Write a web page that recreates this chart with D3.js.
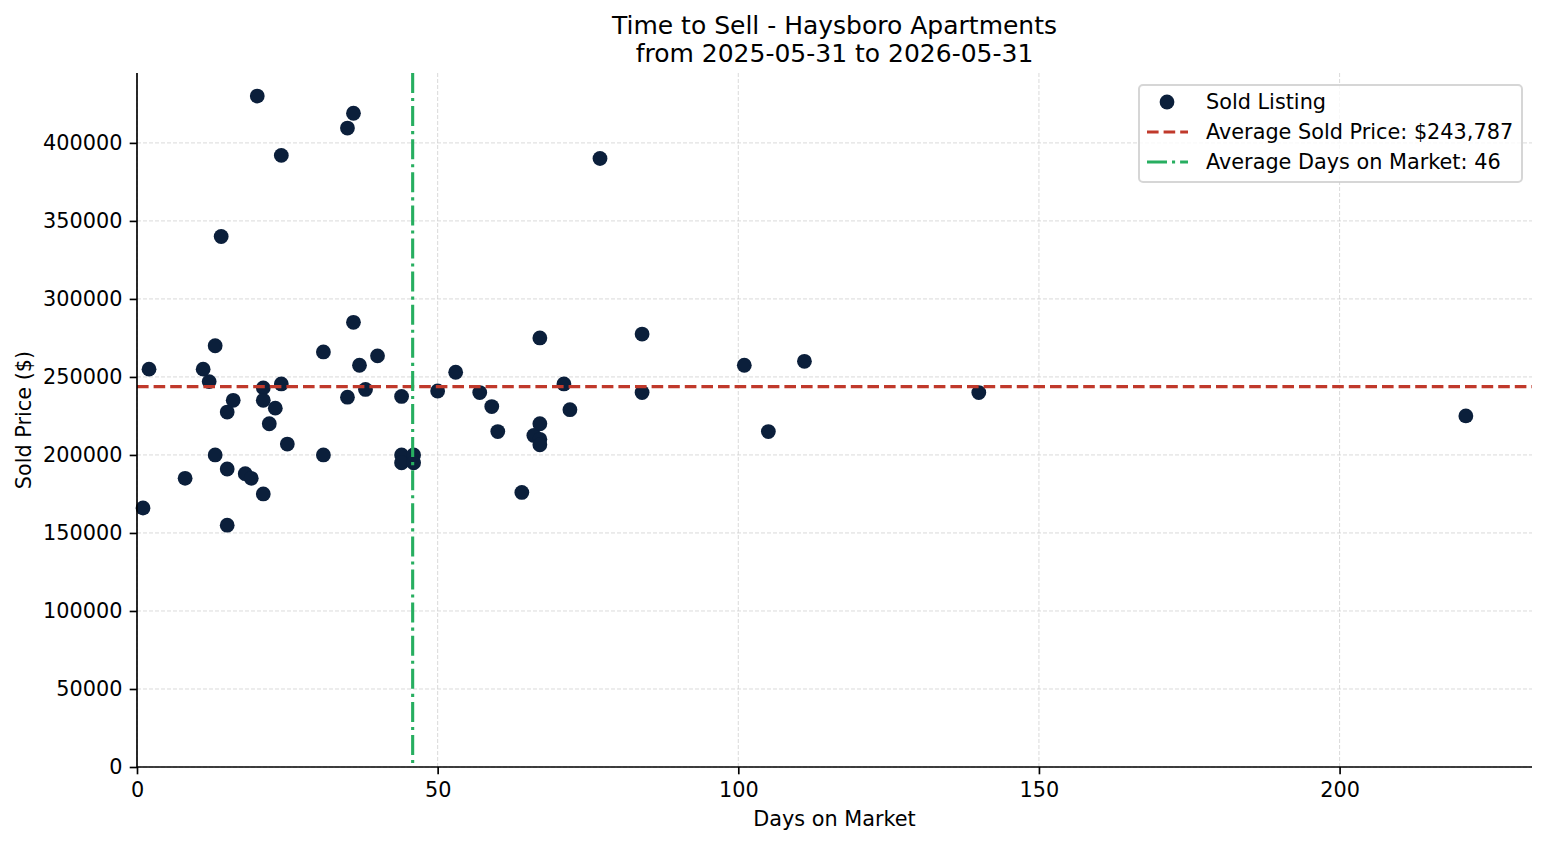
<!DOCTYPE html>
<html>
<head>
<meta charset="utf-8">
<script src="https://cdn.jsdelivr.net/npm/d3@7"></script>
<style>
  body { margin: 0; background: #fff; }
  svg text { font-family: "DejaVu Sans", sans-serif; fill: #000; }
</style>
</head>
<body>
<div id="chart"></div>
<script>
// datos
const days = [1, 2, 8, 11, 12, 13, 13, 14, 15, 15, 15, 16, 18, 19, 20, 21, 21, 21, 22, 23, 24, 24, 25,
  31, 31, 35, 35, 36, 36, 37, 38, 40, 44, 44, 44, 46, 46, 50, 53, 57, 59, 60, 64, 66, 67, 67, 67, 67,
  71, 72, 77, 84, 84, 101, 105, 111, 140, 221];
const prices = [166000, 255000, 185000, 255000, 247000, 270000, 200000, 340000, 227500, 191000, 155000,
  235000, 188000, 185000, 430000, 243000, 235000, 175000, 220000, 230000, 392000, 245500, 207000,
  266000, 200000, 409500, 237000, 419000, 285000, 257500, 242000, 263500, 237500, 200000, 195000,
  200000, 195000, 241000, 253000, 240000, 231000, 215000, 176000, 212500, 275000, 220000, 210000, 206500,
  245500, 229000, 390000, 277500, 240000, 257500, 215000, 260000, 240000, 225000];
const avgPrice = 243787;
const xTicks = [0, 50, 100, 150, 200];
const yTicks = [0, 50000, 100000, 150000, 200000, 250000, 300000, 350000, 400000];
const titleLines = ['Time to Sell - Haysboro Apartments', 'from 2025-05-31 to 2026-05-31'];

const avgDays = d3.mean(days);
const points = days.map((d, i) => ({ days: d, price: prices[i] }));

const svgWidth = 1547;
const svgHeight = 845;
const margin = { top: 73, right: 15, bottom: 78, left: 137 };
const width = svgWidth - margin.left - margin.right;
const height = svgHeight - margin.top - margin.bottom;

const navy = '#0b1f3b';
const red = '#c0392b';
const green = '#27ae60';

const root = d3.select('#chart')
  .append('svg')
  .attr('width', svgWidth)
  .attr('height', svgHeight);

const svg = root.append('g')
  .attr('transform', `translate(${margin.left},${margin.top})`);

const xScale = d3.scaleLinear().domain([0, 232]).range([0, width]);
const yScale = d3.scaleLinear().domain([0, 444800]).range([height, 0]);

// grilla
svg.append('g')
  .selectAll('line')
  .data(xTicks)
  .enter().append('line')
  .attr('x1', d => xScale(d)).attr('x2', d => xScale(d))
  .attr('y1', 0).attr('y2', height)
  .attr('stroke', '#d0d0d0')
  .attr('stroke-width', 0.8).attr('stroke-dasharray', '4,2');

svg.append('g')
  .selectAll('line')
  .data(yTicks)
  .enter().append('line')
  .attr('x1', 0).attr('x2', width)
  .attr('y1', d => yScale(d)).attr('y2', d => yScale(d))
  .attr('stroke', '#d0d0d0')
  .attr('stroke-width', 0.8).attr('stroke-dasharray', '4,2');

// puntos
svg.selectAll('.dot')
  .data(points)
  .enter().append('circle')
  .attr('class', 'dot')
  .attr('cx', d => xScale(d.days))
  .attr('cy', d => yScale(d.price))
  .attr('r', 7.4)
  .attr('fill', navy);

// lineas promedio
svg.append('line')
  .attr('x1', 0).attr('x2', width)
  .attr('y1', yScale(avgPrice)).attr('y2', yScale(avgPrice))
  .attr('stroke', red).attr('stroke-width', 3.1)
  .attr('stroke-dasharray', '11.6,5');

svg.append('line')
  .attr('x1', xScale(avgDays)).attr('x2', xScale(avgDays))
  .attr('y1', 0).attr('y2', height)
  .attr('stroke', green).attr('stroke-width', 3.1)
  .attr('stroke-dasharray', '20,5,3.1,5');

// ejes
const xAxis = svg.append('g')
  .attr('transform', `translate(0,${height})`)
  .call(d3.axisBottom(xScale).tickValues(xTicks).tickSize(7.3).tickPadding(7.3).tickFormat(d3.format('d')));

const yAxis = svg.append('g')
  .call(d3.axisLeft(yScale).tickValues(yTicks).tickSize(7.3).tickPadding(7.3).tickFormat(d3.format('d')));

[xAxis, yAxis].forEach(ax => {
  ax.select('.domain').remove();
  ax.selectAll('.tick line').attr('stroke', '#000').attr('stroke-width', 1.67);
  ax.selectAll('.tick text').style('font-size', '20.8px').style('font-family', 'DejaVu Sans').attr('fill', '#000');
});
xAxis.selectAll('.tick text').attr('dy', '0.76em');

// spines
svg.append('line').attr('x1', 0).attr('x2', 0).attr('y1', 0).attr('y2', height)
  .attr('stroke', '#000').attr('stroke-width', 1.67);
svg.append('line').attr('x1', 0).attr('x2', width).attr('y1', height).attr('y2', height)
  .attr('stroke', '#000').attr('stroke-width', 1.67);

// titulo
root.append('g').selectAll('text')
  .data(titleLines)
  .enter().append('text')
  .attr('x', margin.left + width / 2)
  .attr('y', (d, i) => 33.5 + i * 28)
  .attr('text-anchor', 'middle')
  .style('font-size', '25px')
  .text(d => d);

// etiquetas de ejes
root.append('text')
  .attr('x', margin.left + width / 2)
  .attr('y', 826)
  .attr('text-anchor', 'middle')
  .style('font-size', '20.8px')
  .text('Days on Market');

root.append('text')
  .attr('transform', `translate(31,${margin.top + height / 2}) rotate(-90)`)
  .attr('text-anchor', 'middle')
  .style('font-size', '20.8px')
  .text('Sold Price ($)');

// leyenda
const legend = root.append('g').attr('transform', 'translate(1139,85)');
legend.append('rect')
  .attr('width', 383).attr('height', 97).attr('rx', 4)
  .attr('fill', '#fff').attr('fill-opacity', 0.8)
  .attr('stroke', '#cccccc').attr('stroke-opacity', 0.8).attr('stroke-width', 2);

const legendItems = [
  { label: 'Sold Listing', kind: 'dot' },
  { label: `Average Sold Price: $${d3.format(',')(avgPrice)}`, kind: 'price' },
  { label: `Average Days on Market: ${Math.round(avgDays)}`, kind: 'days' }
];

legendItems.forEach((item, i) => {
  const y = 17 + i * 30;
  if (item.kind === 'dot') {
    legend.append('circle').attr('cx', 28).attr('cy', y).attr('r', 7.4).attr('fill', navy);
  } else {
    legend.append('line')
      .attr('x1', 8).attr('x2', 49).attr('y1', y).attr('y2', y)
      .attr('stroke', item.kind === 'price' ? red : green)
      .attr('stroke-width', 3.1)
      .attr('stroke-dasharray', item.kind === 'price' ? '11.6,5' : '20,5,3.1,5');
  }
  legend.append('text')
    .attr('x', 67).attr('y', y).attr('dy', '0.36em')
    .style('font-size', '20.8px')
    .text(item.label);
});
</script>
</body>
</html>
